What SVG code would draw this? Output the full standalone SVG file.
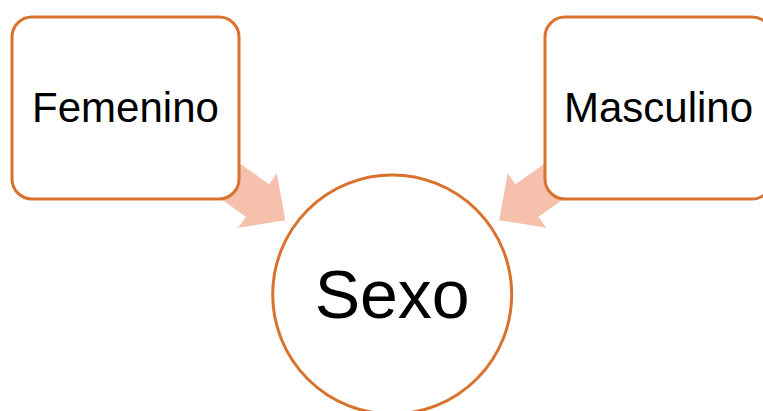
<svg xmlns="http://www.w3.org/2000/svg" width="763" height="411" viewBox="0 0 763 411">
  <style>
    .box { fill: #FFFFFF; stroke: #D9722F; stroke-width: 3; }
    .arrow { fill: #F5C0AC; stroke: none; }
    .label { font-family: "Liberation Sans", Arial, sans-serif; fill: #000000; text-anchor: middle; }
  </style>
  <defs>
    <polygon id="blockArrow" points="-70,-20 0,-20 0,-33.5 34,0 0,33.5 0,20 -70,20"/>
  </defs>
  <rect width="763" height="411" fill="#FFFFFF"/>
  <g id="connectors">
    <use href="#blockArrow" class="arrow" transform="translate(257.5,200.5) rotate(35.3)"/>
    <use href="#blockArrow" class="arrow" transform="translate(527,200.5) rotate(144.7)"/>
  </g>
  <g id="femenino">
    <rect class="box" x="12" y="17" width="227" height="182" rx="20" ry="20"/>
    <text class="label" x="125.5" y="122" font-size="42">Femenino</text>
  </g>
  <g id="masculino">
    <rect class="box" x="545" y="17" width="227" height="182" rx="20" ry="20"/>
    <text class="label" x="658.5" y="122" font-size="42">Masculino</text>
  </g>
  <g id="sexo">
    <circle class="box" cx="392.2" cy="294.5" r="119.5"/>
    <text class="label" x="392.2" y="318" font-size="68">Sexo</text>
  </g>
</svg>
